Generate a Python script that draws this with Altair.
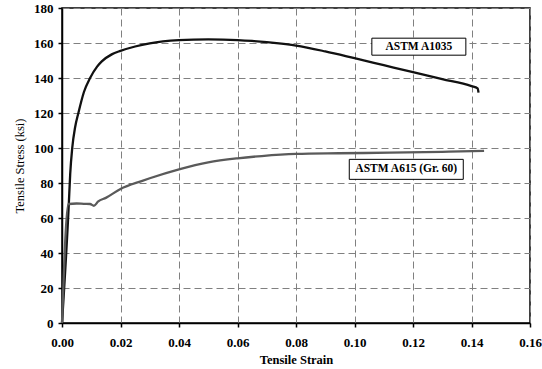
import altair as alt
import pandas as pd

# ---- data ----
a1035_strain = [0, 0.0023, 0.0028, 0.0035, 0.0045, 0.0056, 0.0075, 0.0096, 0.012, 0.0136,
                0.017, 0.02, 0.025, 0.03, 0.04, 0.05, 0.06, 0.065, 0.07, 0.075, 0.08, 0.09, 0.10,
                0.11, 0.12, 0.13, 0.14, 0.1421, 0.1424]
a1035_stress = [0, 67, 85, 100, 112, 120, 132, 140, 146.5, 149.5,
                153.5, 155.5, 158, 159.8, 161.6, 162.1, 161.7, 161.2, 160.5, 159.6, 158.5, 155.2, 151.3,
                147.3, 143.3, 139.4, 135.4, 134.1, 131.6]

a615_strain = [0, 0.0022, 0.005, 0.0075, 0.0096, 0.0109, 0.0124, 0.015, 0.02, 0.0272,
               0.03, 0.04, 0.05, 0.06, 0.0683, 0.08, 0.0946, 0.112, 0.13, 0.1443]
a615_stress = [0, 68, 68.3, 68.1, 68, 67, 69.5, 71.5, 76.6, 81.1,
               82.7, 87.8, 91.8, 94.1, 95.4, 96.6, 97.0, 97.3, 97.8, 98.3]

series_names = ["ASTM A1035", "ASTM A615 (Gr. 60)"]
series_colors = ["#111111", "#5a5a5a"]

label_text = ["ASTM A1035", "ASTM A615 (Gr. 60)"]
label_strain = [0.122, 0.1177]
label_stress = [157.9, 87.8]

x_ticks = [0, 0.02, 0.04, 0.06, 0.08, 0.10, 0.12, 0.14, 0.16]
y_ticks = [0, 20, 40, 60, 80, 100, 120, 140, 160, 180]

rows = []
for i, (s, t) in enumerate(zip(a1035_strain, a1035_stress)):
    rows.append({"series": series_names[0], "strain": s, "stress": t, "i": i})
for i, (s, t) in enumerate(zip(a615_strain, a615_stress)):
    rows.append({"series": series_names[1], "strain": s, "stress": t, "i": i})
df = pd.DataFrame(rows)
labels = pd.DataFrame({"text": label_text, "strain": label_strain, "stress": label_stress})

FONT = "Liberation Serif"

xscale = alt.Scale(domain=[0, 0.16], nice=False)
yscale = alt.Scale(domain=[0, 180], nice=False)

xaxis = alt.Axis(values=x_ticks, format=".2f", title="Tensile Strain",
                 titleFontWeight="bold", labelFontWeight="bold", labelFlush=False)
yaxis = alt.Axis(values=y_ticks, format="d", title="Tensile Stress (ksi)",
                 titleFontWeight="normal", labelFontWeight="bold", labelFlush=False)

X = alt.X("strain:Q", scale=xscale, axis=xaxis)
Y = alt.Y("stress:Q", scale=yscale, axis=yaxis)

lines = alt.Chart(df).mark_line(strokeWidth=2.3, interpolate="monotone").encode(
    x=X, y=Y,
    color=alt.Color("series:N", scale=alt.Scale(domain=series_names, range=series_colors), legend=None),
    order="i:Q",
    detail="series:N",
)

def box(ratio):
    return f"M-1,-{ratio:.4f}L1,-{ratio:.4f}L1,{ratio:.4f}L-1,{ratio:.4f}Z"

box1 = alt.Chart(labels.iloc[[0]]).mark_point(
    shape=box(17 / 94), size=94 ** 2, filled=True, fill="white", stroke="black", strokeWidth=1, opacity=1
).encode(x=X, y=Y)

box2 = alt.Chart(labels.iloc[[1]]).mark_point(
    shape=box(20 / 114), size=114 ** 2, filled=True, fill="white", stroke="black", strokeWidth=1, opacity=1
).encode(x=X, y=Y)

texts = alt.Chart(labels).mark_text(
    font=FONT, fontSize=11.5, fontWeight="bold", color="black", align="center", baseline="middle"
).encode(x=X, y=Y, text="text:N")

chart = alt.layer(lines, box1, box2, texts).properties(
    width=468, height=315,
    background="white",
    autosize=alt.AutoSizeParams(type="none"),
    padding={"left": 62, "top": 8, "right": 12, "bottom": 46},
).configure_view(
    stroke="black", strokeWidth=1.5
).configure_axis(
    labelFont=FONT, titleFont=FONT, labelFontSize=13, titleFontSize=12.5,
    labelColor="black", titleColor="black",
    domainColor="black", domainWidth=1.5, tickColor="black", tickSize=4, tickWidth=1.5,
    grid=True, gridColor="#808080", gridDash=[7, 4], gridWidth=1,
).configure_axisX(
    labelPadding=9, titlePadding=4,
).configure_axisY(
    labelPadding=5, titlePadding=7,
)

chart.save("out.html", embed_options={"renderer": "svg", "actions": False})
